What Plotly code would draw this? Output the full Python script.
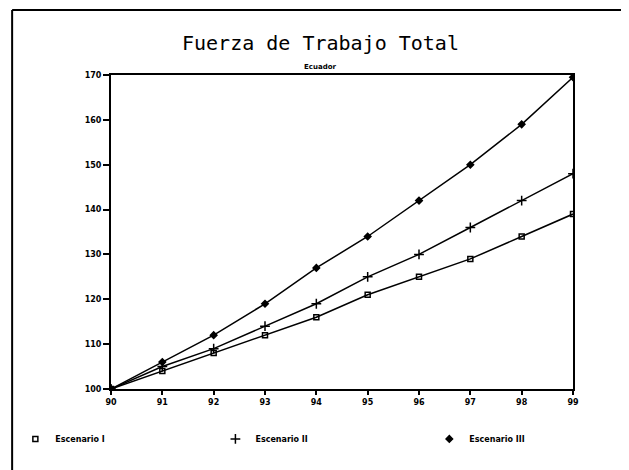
import plotly.graph_objects as go

years = [90, 91, 92, 93, 94, 95, 96, 97, 98, 99]
year_labels = ["90", "91", "92", "93", "94", "95", "96", "97", "98", "99"]
escenario_1 = [100, 104, 108, 112, 116, 121, 125, 129, 134, 139]
escenario_2 = [100, 105, 109, 114, 119, 125, 130, 136, 142, 148]
escenario_3 = [100, 106, 112, 119, 127, 134, 142, 150, 159, 169.5]
series_names = ["Escenario I", "Escenario II", "Escenario III"]
y_ticks = [100, 110, 120, 130, 140, 150, 160, 170]

title_text = "Fuerza de Trabajo Total"
subtitle_text = "Ecuador"

symbols = ["square-open", "cross-thin-open", "diamond"]
sizes = [5, 7, 5]
legend_ids = ["legend", "legend2", "legend3"]
legend_x = [-0.207, 0.226, 0.689]

fig = go.Figure()
for name, vals, sym, sz in zip(series_names, [escenario_1, escenario_2, escenario_3], symbols, sizes):
    fig.add_trace(go.Scatter(
        x=years, y=vals, mode="lines+markers", name=name, showlegend=False,
        line=dict(color="black", width=1.5),
        marker=dict(symbol=sym, size=sz, color="black", line=dict(color="black", width=1.5)),
    ))
# legend-only marker entries, each in its own legend box
for name, sym, sz, lid in zip(series_names, symbols, sizes, legend_ids):
    fig.add_trace(go.Scatter(
        x=[None], y=[None], mode="markers", name=name, legend=lid,
        marker=dict(symbol=sym, size=sz, color="black", line=dict(color="black", width=1.5)),
    ))

tick_font = dict(family="DejaVu Sans", size=8, color="black", weight="bold")
legend_font = dict(family="DejaVu Sans", size=8, color="black", weight="bold")

legend_common = dict(orientation="h", y=-0.159, xanchor="left", yanchor="middle",
                     font=legend_font, bgcolor="rgba(0,0,0,0)")

fig.update_layout(
    width=629, height=470,
    margin=dict(l=103, r=64, t=67, b=89, autoexpand=False),
    paper_bgcolor="white", plot_bgcolor="white",
    showlegend=True,
    legend=dict(x=legend_x[0], **legend_common),
    legend2=dict(x=legend_x[1], **legend_common),
    legend3=dict(x=legend_x[2], **legend_common),
    xaxis=dict(
        range=[90, 99], tickvals=years, ticktext=year_labels,
        showgrid=False, zeroline=False, showline=True, linecolor="black", linewidth=2,
        mirror=True, ticks="outside", ticklen=4, tickcolor="black", tickwidth=1.5,
        tickfont=tick_font,
    ),
    yaxis=dict(
        range=[100, 170], tickvals=y_ticks,
        showgrid=False, zeroline=False, showline=True, linecolor="black", linewidth=2,
        mirror=True, ticks="outside", ticklen=6, tickcolor="black", tickwidth=1.5,
        tickfont=tick_font,
    ),
    annotations=[
        dict(text=title_text, x=0.453, y=1.102, xref="paper", yref="paper",
             showarrow=False, xanchor="center", yanchor="middle",
             font=dict(family="DejaVu Sans Mono", size=20, color="black")),
        dict(text=subtitle_text, x=0.453, y=1.025, xref="paper", yref="paper",
             showarrow=False, xanchor="center", yanchor="middle",
             font=dict(family="DejaVu Sans", size=7, color="black", weight="bold")),
    ],
    shapes=[
        dict(type="line", xref="paper", yref="paper", x0=-0.214, x1=1.15, y0=1.207, y1=1.207,
             line=dict(color="black", width=2)),
        dict(type="line", xref="paper", yref="paper", x0=-0.214, x1=-0.214, y0=1.207, y1=-0.26,
             line=dict(color="black", width=2)),
    ],
)

fig.write_html("out.html")
